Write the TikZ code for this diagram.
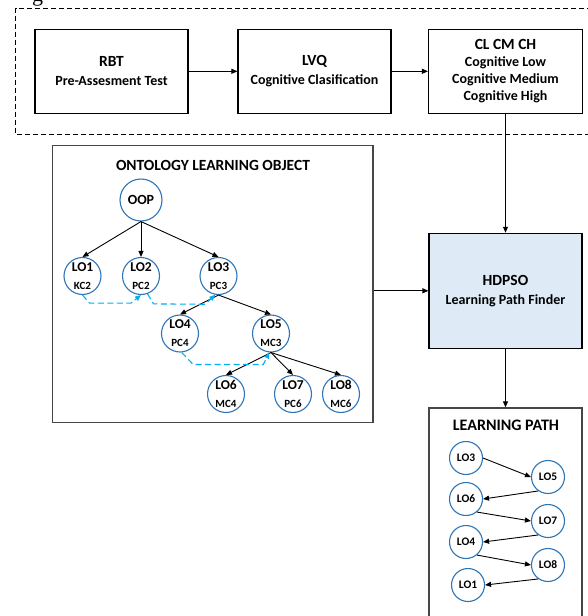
\documentclass[tikz,border=0pt]{standalone}
\usepackage{fontspec}
\setmainfont{Carlito}
\newfontfamily\capfont{Liberation Serif}
\usetikzlibrary{arrows.meta,calc}
\definecolor{circblue}{RGB}{46,117,182}
\definecolor{dashblue}{RGB}{0,176,240}
\definecolor{hdfill}{RGB}{222,235,247}
\definecolor{framegray}{RGB}{70,70,70}
\begin{document}
\begin{tikzpicture}[x=1pt,y=-1pt,
  stagebox/.style={draw=black, line width=1.1pt, minimum width=153pt, minimum height=84pt,
    align=center, inner sep=0pt, font=\bfseries\fontsize{14}{18.7}\selectfont},
  panel/.style={draw=framegray, line width=1.3pt, inner sep=0pt},
  lonode/.style={circle, draw=circblue, line width=1.1pt, minimum size=37pt, inner sep=0pt,
    align=center, font=\bfseries\fontsize{11}{18}\selectfont},
  pathnode/.style={circle, draw=circblue, line width=1.1pt, minimum size=33pt, inner sep=0pt,
    font=\bfseries\fontsize{11.5}{14}\selectfont},
  arr/.style={draw=black, line width=0.9pt, -{Triangle[length=6pt,width=5pt]}},
  linkdash/.style={draw=dashblue, line width=1.1pt, dash pattern=on 6pt off 3.5pt,
    -{Triangle[length=6pt,width=5pt]}},
  big/.style={font=\bfseries\fontsize{15.5}{18}\selectfont}
]
\useasboundingbox (0,0) rectangle (587,616);

% caption fragment above the diagram
\node[anchor=base, inner sep=0pt, font=\capfont\fontsize{22}{22}\selectfont] (capg) at (37.5,1) {g};

% dashed frame round the classification stage
\draw[line width=0.9pt, dash pattern=on 5pt off 3pt] (600,8) -- (15.7,8) -- (15.7,134) -- (600,134);

% classification stages
\node[stagebox] (rbt) at (111.5,71.3) {{\fontsize{15.5}{18.7}\selectfont RBT}\\Pre-Assesment Test};
\node[stagebox] (lvq) at (314.5,71.3) {{\fontsize{15.5}{18.7}\selectfont LVQ}\\Cognitive Clasification};
\node[stagebox, minimum width=154pt, font=\bfseries\fontsize{14}{16.9}\selectfont] (cl) at (505.5,71.3)
  {{\fontsize{15.5}{16.9}\selectfont CL CM CH}\\Cognitive Low\\Cognitive Medium\\Cognitive High};
\draw[arr] (rbt.east) -- (lvq.west);
\draw[arr] (lvq.east) -- (cl.west);

% path finder
\node[stagebox, fill=hdfill, minimum height=115pt] (hdpso) at (505.5,290.8)
  {{\fontsize{15.5}{18.7}\selectfont HDPSO}\\Learning Path Finder};
\draw[arr] (cl.south) -- (hdpso.north);

% ontology panel
\node[panel, minimum width=320.3pt, minimum height=277pt] (onto) at (212.85,283.8) {};
\node[big] (ontotitle) at (213,165) {ONTOLOGY LEARNING OBJECT};
\draw[arr] (hdpso.west -| onto.east) -- (hdpso.west);

% learning path panel
\node[panel, minimum width=153pt, minimum height=230pt] (lp) at (505.5,523) {};
\node[font=\bfseries\fontsize{16}{18}\selectfont] (lptitle) at (506,425) {LEARNING PATH};
\draw[arr] (hdpso.south) -- (lp.north);

% ontology tree
\node[lonode, minimum size=42pt, font=\bfseries\fontsize{14}{16}\selectfont] (oop) at (141,200) {OOP};
\node[lonode] (lo1) at (82.5,276) {{\fontsize{13.5}{18}\selectfont LO1}\\KC2};
\node[lonode] (lo2) at (141,276) {{\fontsize{13.5}{18}\selectfont LO2}\\PC2};
\node[lonode] (lo3) at (218.5,276) {{\fontsize{13.5}{18}\selectfont LO3}\\PC3};
\node[lonode] (lo4) at (180,333.5) {{\fontsize{13.5}{18}\selectfont LO4}\\PC4};
\node[lonode] (lo5) at (271,333.5) {{\fontsize{13.5}{18}\selectfont LO5}\\MC3};
\node[lonode] (lo6) at (226,394) {{\fontsize{13.5}{18}\selectfont LO6}\\MC4};
\node[lonode] (lo7) at (293,394) {{\fontsize{13.5}{18}\selectfont LO7}\\PC6};
\node[lonode] (lo8) at (341,394) {{\fontsize{13.5}{18}\selectfont LO8}\\MC6};

\draw[arr] (oop.south) -- (lo1.north);
\draw[arr] (oop.south) -- (lo2.north);
\draw[arr] (oop.south) -- (lo3.north);
\draw[arr] (lo3.south) -- (lo4.north);
\draw[arr] (lo3.south) -- (lo5.north);
\draw[arr] (lo5.south) -- (lo6.north);
\draw[arr] (lo5.south) -- (lo7.north);
\draw[arr] (lo5.south) -- (lo8.north);

% prerequisite links
\draw[linkdash] (lo1.south) -- ++(7,8) -- ($(lo2.south)+(-10,8)$) -- (lo2.south);
\draw[linkdash] (lo2.-70) -- ++(6,10) -- ($(lo3.-100)+(-10,9.5)$) -- (lo3.-100);
\draw[linkdash] (lo4.-85) -- ++(11.5,12) -- ($(lo5.-95)+(-6,12)$) -- (lo5.-95);

% resulting learning path
\node[pathnode] (p3) at (466,458) {LO3};
\node[pathnode] (p5) at (548,477) {LO5};
\node[pathnode] (p6) at (466,499) {LO6};
\node[pathnode] (p7) at (548,521) {LO7};
\node[pathnode] (p4) at (466,542) {LO4};
\node[pathnode] (p8) at (548,565) {LO8};
\node[pathnode] (p1) at (468,585) {LO1};

\draw[arr] (p3.east) -- (p5.west);
\draw[arr] (p5.235) -- (p6.east);
\draw[arr] (p6.-50) -- (p7.west);
\draw[arr] (p7.235) -- (p4.east);
\draw[arr] (p4.-50) -- (p8.west);
\draw[arr] (p8.235) -- (p1.east);
\end{tikzpicture}
\end{document}
